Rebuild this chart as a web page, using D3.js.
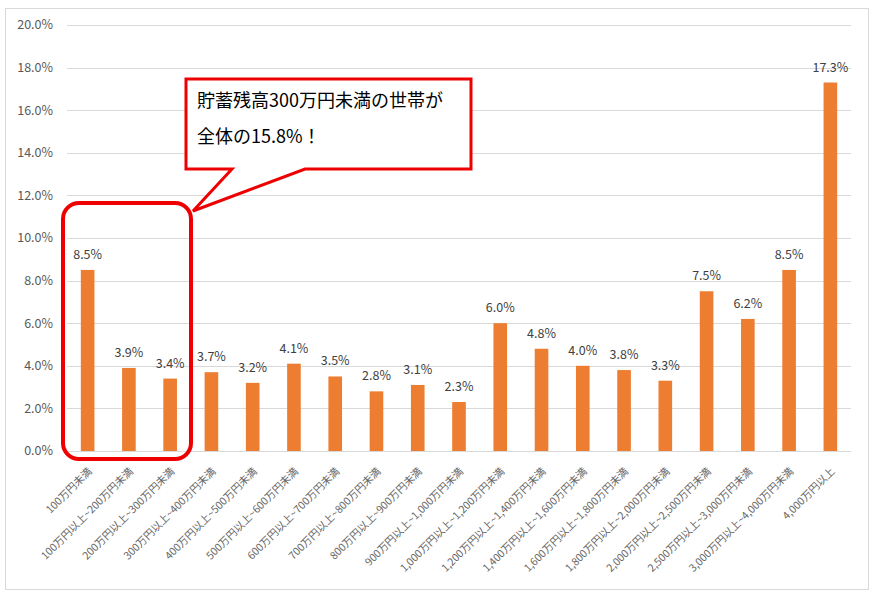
<!DOCTYPE html>
<html><head><meta charset="utf-8">
<script src="https://cdn.jsdelivr.net/npm/d3@7"></script>
<style>
body{margin:0;background:#fff;}
svg{display:block;font-family:"Noto Sans CJK JP","Noto Sans",sans-serif;}
</style></head>
<body><svg id="c" width="877" height="603"></svg>
<script>
const categories = ["100万円未満","100万円以上~200万円未満","200万円以上~300万円未満","300万円以上~400万円未満","400万円以上~500万円未満","500万円以上~600万円未満","600万円以上~700万円未満","700万円以上~800万円未満","800万円以上~900万円未満","900万円以上~1,000万円未満","1,000万円以上~1,200万円未満","1,200万円以上~1,400万円未満","1,400万円以上~1,600万円未満","1,600万円以上~1,800万円未満","1,800万円以上~2,000万円未満","2,000万円以上~2,500万円未満","2,500万円以上~3,000万円未満","3,000万円以上~4,000万円未満","4,000万円以上"];
const values = [8.5,3.9,3.4,3.7,3.2,4.1,3.5,2.8,3.1,2.3,6.0,4.8,4.0,3.8,3.3,7.5,6.2,8.5,17.3];
const yTicks = [0,2,4,6,8,10,12,14,16,18,20];
const calloutLines = ["貯蓄残高300万円未満の世帯が","全体の15.8%！"];

(function(){
const svg = d3.select("#c");
svg.append("rect").attr("x",5.5).attr("y",8.5).attr("width",863).attr("height",581)
  .attr("fill","#fff").attr("stroke","#d9d9d9").attr("stroke-width",1);

const pL=67, pR=851, pT=25, pB=451;
const x = d3.scaleBand().domain(categories).range([pL,pR]).paddingInner(0.67).paddingOuter(0.335);
const y = d3.scaleLinear().domain([0,20]).range([pB,pT]);

svg.append("g").selectAll("line").data(yTicks).join("line")
  .attr("x1",pL).attr("x2",pR)
  .attr("y1",d=>Math.round(y(d))+0.5).attr("y2",d=>Math.round(y(d))+0.5)
  .attr("stroke","#d9d9d9").attr("stroke-width",1);

svg.append("g").selectAll("text").data(yTicks).join("text")
  .attr("x",53).attr("y",d=>y(d)).attr("dy","0.35em")
  .attr("text-anchor","end").attr("font-size",12.5).attr("fill","#595959")
  .text(d=>d.toFixed(1)+"%");

svg.append("g").selectAll("rect").data(values).join("rect")
  .attr("x",(d,i)=>x(categories[i])).attr("width",x.bandwidth())
  .attr("y",d=>y(d)).attr("height",d=>y(0)-y(d))
  .attr("fill","#ed7d31");

svg.append("g").selectAll("text").data(values).join("text")
  .attr("x",(d,i)=>x(categories[i])+x.bandwidth()/2).attr("y",d=>y(d)-11)
  .attr("text-anchor","middle").attr("font-size",12.5).attr("fill","#404040")
  .text(d=>d.toFixed(1)+"%");

svg.append("g").selectAll("text").data(categories).join("text")
  .attr("transform",d=>`translate(${x(d)+x.bandwidth()/2+5},${472}) rotate(-45)`)
  .attr("text-anchor","end").attr("font-size",10.5).attr("fill","#666666")
  .text(d=>d);

svg.append("rect").attr("x",63).attr("y",203).attr("width",128).attr("height",256)
  .attr("rx",16).attr("ry",16).attr("fill","none").attr("stroke","#ee0000").attr("stroke-width",4);

const cx0=186, cy0=79, cx1=471, cy1=169;
const path = `M${cx0},${cy0} L${cx1},${cy0} L${cx1},${cy1} L305,${cy1} L193,211 L232,${cy1} L${cx0},${cy1} Z`;
svg.append("path").attr("d",path).attr("fill","#fff").attr("stroke","#ee0000").attr("stroke-width",3);
svg.append("g").selectAll("text").data(calloutLines).join("text")
  .attr("x",197).attr("y",(d,i)=>107+i*36).attr("font-size",18).attr("fill","#000")
  .text(d=>d);
})();
</script></body></html>
